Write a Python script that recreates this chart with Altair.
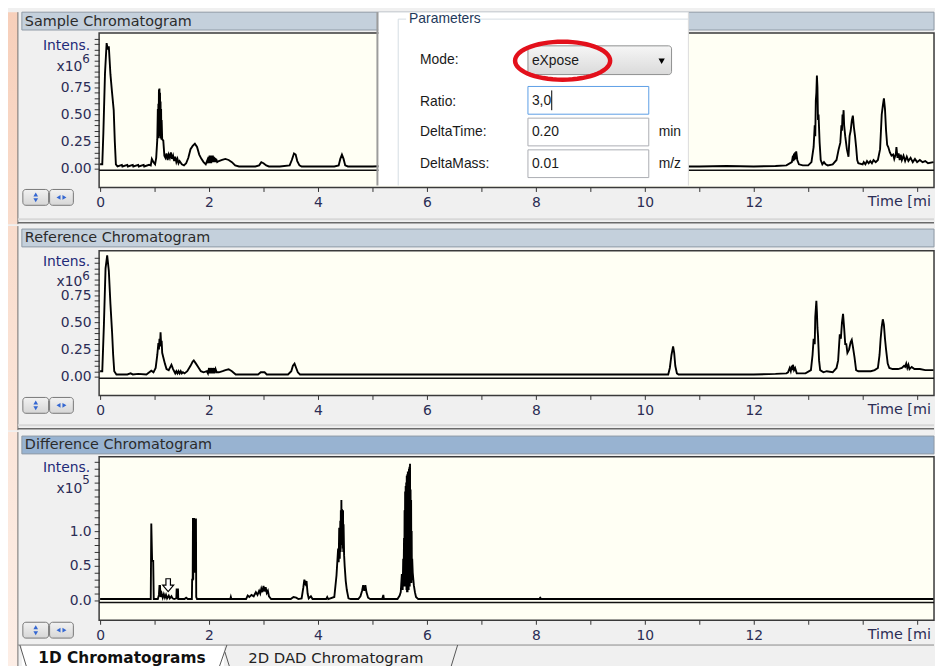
import math
import altair as alt
import pandas as pd

# ---------------- data ----------------
# Sample chromatogram, intensity x10^6
SAMPLE = [
    (0.00, 0.04), (0.04, 0.04), (0.06, 0.33), (0.09, 0.88), (0.12, 1.16), (0.14, 1.10), (0.16, 1.13),
    (0.19, 0.87), (0.22, 0.70), (0.25, 0.54), (0.27, 0.25), (0.29, 0.04),
    (0.32, 0.02), (0.40, 0.035), (0.41, 0.02), (0.50, 0.035), (0.51, 0.02), (0.60, 0.035), (0.61, 0.02),
    (0.70, 0.035), (0.71, 0.02), (0.80, 0.035), (0.81, 0.02), (0.90, 0.035), (0.93, 0.03),
    (0.95, 0.09), (0.98, 0.06), (1.01, 0.04), (1.03, 0.10), (1.05, 0.27), (1.06, 0.55), (1.065, 0.30),
    (1.07, 0.60), (1.075, 0.28), (1.08, 0.73), (1.085, 0.30), (1.09, 0.74), (1.095, 0.32), (1.10, 0.70),
    (1.105, 0.30), (1.11, 0.62), (1.115, 0.28), (1.12, 0.55), (1.125, 0.27), (1.13, 0.45), (1.14, 0.27),
    (1.16, 0.26), (1.18, 0.12),
    (1.20, 0.10), (1.22, 0.14), (1.24, 0.08), (1.26, 0.13), (1.28, 0.10), (1.30, 0.15), (1.32, 0.09),
    (1.34, 0.12), (1.36, 0.07), (1.38, 0.11), (1.40, 0.06), (1.42, 0.09), (1.44, 0.05), (1.46, 0.07),
    (1.50, 0.04), (1.54, 0.03),
    (1.58, 0.05), (1.62, 0.10), (1.66, 0.18), (1.70, 0.21), (1.74, 0.23), (1.78, 0.20), (1.82, 0.13),
    (1.86, 0.09), (1.90, 0.06), (1.94, 0.04),
    (1.97, 0.08), (1.98, 0.05), (1.99, 0.11), (2.00, 0.05), (2.01, 0.12), (2.02, 0.05), (2.03, 0.12),
    (2.04, 0.05), (2.05, 0.12), (2.06, 0.06), (2.07, 0.12), (2.08, 0.06), (2.09, 0.11), (2.10, 0.06),
    (2.11, 0.10), (2.12, 0.06), (2.13, 0.09), (2.15, 0.06),
    (2.18, 0.07), (2.24, 0.08), (2.30, 0.09), (2.36, 0.08), (2.42, 0.06), (2.48, 0.03), (2.55, 0.02),
    (2.70, 0.02), (2.85, 0.02), (2.92, 0.03), (2.96, 0.06), (3.00, 0.05), (3.05, 0.03), (3.10, 0.02),
    (3.30, 0.02), (3.48, 0.03), (3.52, 0.08), (3.56, 0.14), (3.59, 0.13), (3.62, 0.07), (3.66, 0.03),
    (3.70, 0.02), (4.00, 0.02), (4.30, 0.02), (4.38, 0.03), (4.41, 0.09), (4.44, 0.13), (4.47, 0.09),
    (4.50, 0.03), (4.55, 0.02),
    (5.00, 0.02), (5.60, 0.03), (5.70, 0.20), (5.80, 0.03), (6.50, 0.02), (8.00, 0.02), (10.40, 0.02),
    (10.50, 0.29), (10.60, 0.02), (11.00, 0.02), (11.50, 0.025), (12.00, 0.02), (12.40, 0.025), (12.60, 0.03),
    (12.70, 0.06), (12.72, 0.12), (12.73, 0.07), (12.74, 0.14), (12.75, 0.08), (12.76, 0.15), (12.77, 0.09),
    (12.78, 0.16), (12.80, 0.08), (12.83, 0.04), (12.90, 0.03), (13.00, 0.03),
    (13.06, 0.06), (13.10, 0.20), (13.12, 0.40), (13.13, 0.30), (13.14, 0.63), (13.15, 0.70), (13.16, 0.86),
    (13.17, 0.75), (13.18, 0.45), (13.19, 0.50), (13.21, 0.24), (13.23, 0.08), (13.26, 0.04), (13.29, 0.06),
    (13.32, 0.04), (13.36, 0.03),
    (13.45, 0.04), (13.52, 0.08), (13.56, 0.18), (13.59, 0.24), (13.61, 0.40), (13.62, 0.35), (13.63, 0.50),
    (13.64, 0.45), (13.65, 0.54), (13.66, 0.40), (13.68, 0.30), (13.71, 0.18), (13.74, 0.11), (13.76, 0.30),
    (13.78, 0.35), (13.80, 0.44), (13.82, 0.49), (13.84, 0.38), (13.86, 0.30), (13.88, 0.20), (13.90, 0.08),
    (13.92, 0.05),
    (14.00, 0.04), (14.02, 0.06), (14.05, 0.04), (14.08, 0.07), (14.11, 0.05), (14.14, 0.07), (14.17, 0.05),
    (14.20, 0.08), (14.24, 0.06), (14.28, 0.08), (14.32, 0.18), (14.35, 0.50), (14.37, 0.58), (14.39, 0.65),
    (14.41, 0.55), (14.43, 0.35), (14.45, 0.22), (14.47, 0.20), (14.50, 0.15), (14.53, 0.12),
    (14.56, 0.13), (14.58, 0.09), (14.61, 0.14), (14.62, 0.20), (14.64, 0.10), (14.66, 0.14), (14.68, 0.08),
    (14.70, 0.13), (14.72, 0.08), (14.75, 0.12), (14.78, 0.07), (14.81, 0.11), (14.84, 0.07), (14.88, 0.10),
    (14.92, 0.06), (14.96, 0.09), (15.00, 0.06), (15.05, 0.08), (15.10, 0.06), (15.15, 0.07), (15.20, 0.05),
    (15.30, 0.06),
]

# Reference chromatogram, intensity x10^6
REFERENCE = [
    (0.00, 0.05), (0.04, 0.05), (0.07, 0.48), (0.10, 1.00), (0.13, 1.12), (0.16, 0.98), (0.19, 0.67),
    (0.22, 0.41), (0.24, 0.20), (0.26, 0.05), (0.30, 0.02),
    (0.50, 0.02), (0.56, 0.03), (0.60, 0.02), (0.70, 0.025), (0.85, 0.02), (0.94, 0.055), (0.98, 0.04),
    (1.02, 0.08), (1.05, 0.20), (1.07, 0.31), (1.08, 0.25), (1.09, 0.35), (1.10, 0.28), (1.11, 0.41),
    (1.12, 0.30), (1.13, 0.33), (1.14, 0.22), (1.16, 0.18), (1.19, 0.12), (1.22, 0.07), (1.26, 0.06),
    (1.29, 0.09), (1.31, 0.11), (1.34, 0.07), (1.36, 0.05), (1.38, 0.03), (1.40, 0.05), (1.42, 0.03),
    (1.44, 0.05), (1.46, 0.03), (1.48, 0.05), (1.50, 0.03), (1.52, 0.04), (1.55, 0.03),
    (1.60, 0.05), (1.66, 0.10), (1.70, 0.14), (1.72, 0.15), (1.76, 0.12), (1.80, 0.09), (1.85, 0.05),
    (1.90, 0.04), (1.96, 0.05), (1.98, 0.03), (2.00, 0.08), (2.01, 0.03), (2.03, 0.08), (2.04, 0.03),
    (2.06, 0.08), (2.07, 0.03), (2.09, 0.08), (2.10, 0.03), (2.12, 0.07), (2.14, 0.04), (2.18, 0.04),
    (2.25, 0.05), (2.30, 0.06), (2.36, 0.068), (2.42, 0.05), (2.49, 0.02),
    (2.90, 0.02), (2.95, 0.04), (3.02, 0.04), (3.06, 0.02), (3.45, 0.02), (3.51, 0.05), (3.54, 0.10),
    (3.57, 0.12), (3.60, 0.08), (3.63, 0.04), (3.67, 0.02),
    (5.00, 0.02), (7.00, 0.02), (9.00, 0.02), (10.43, 0.02), (10.46, 0.08), (10.49, 0.20), (10.52, 0.28),
    (10.54, 0.22), (10.56, 0.10), (10.59, 0.03), (10.62, 0.02),
    (12.00, 0.02), (12.40, 0.025), (12.60, 0.03), (12.63, 0.04), (12.66, 0.08), (12.68, 0.05), (12.70, 0.10),
    (12.71, 0.06), (12.72, 0.11), (12.74, 0.06), (12.76, 0.08), (12.79, 0.03), (12.95, 0.03),
    (13.05, 0.06), (13.08, 0.20), (13.10, 0.35), (13.12, 0.30), (13.13, 0.55), (13.15, 0.70), (13.16, 0.60),
    (13.17, 0.45), (13.18, 0.38), (13.20, 0.15), (13.22, 0.06), (13.28, 0.04), (13.34, 0.05), (13.45, 0.04),
    (13.52, 0.08), (13.55, 0.15), (13.58, 0.39), (13.60, 0.35), (13.62, 0.50), (13.64, 0.58), (13.66, 0.45),
    (13.68, 0.30), (13.70, 0.30), (13.72, 0.22), (13.75, 0.25), (13.78, 0.32), (13.80, 0.34), (13.82, 0.28),
    (13.85, 0.18), (13.88, 0.06), (13.92, 0.05),
    (14.05, 0.05), (14.15, 0.05), (14.22, 0.06), (14.28, 0.08), (14.31, 0.20), (14.33, 0.35), (14.35, 0.46),
    (14.37, 0.53), (14.39, 0.48), (14.41, 0.35), (14.43, 0.25), (14.46, 0.12), (14.49, 0.08), (14.55, 0.07),
    (14.65, 0.07), (14.72, 0.08), (14.76, 0.10), (14.78, 0.09), (14.80, 0.12), (14.82, 0.08), (14.84, 0.11),
    (14.86, 0.07), (14.90, 0.09), (14.95, 0.07), (15.05, 0.07), (15.15, 0.06), (15.30, 0.06),
]

# Difference chromatogram, intensity x10^5
DIFFERENCE = [
    (0.00, 0.02), (0.93, 0.02), (0.94, 1.11), (0.955, 0.57), (0.975, 0.57), (0.985, 0.02), (1.06, 0.02),
    (1.08, 0.08), (1.09, 0.21), (1.10, 0.21), (1.11, 0.05), (1.13, 0.10), (1.15, 0.04), (1.17, 0.09),
    (1.19, 0.04), (1.21, 0.08), (1.23, 0.03), (1.26, 0.07), (1.28, 0.03), (1.31, 0.06), (1.33, 0.03),
    (1.36, 0.02), (1.40, 0.03), (1.405, 0.16), (1.43, 0.16), (1.435, 0.02), (1.55, 0.02), (1.58, 0.04),
    (1.61, 0.02), (1.685, 0.02), (1.69, 0.30), (1.70, 0.30), (1.705, 1.19), (1.71, 0.30), (1.715, 1.19),
    (1.72, 0.40), (1.725, 1.19), (1.73, 0.40), (1.735, 1.18), (1.74, 0.40), (1.745, 1.18), (1.75, 0.40),
    (1.755, 1.17), (1.76, 1.17), (1.765, 0.05), (1.78, 0.02),
    (2.39, 0.02), (2.40, 0.05), (2.41, 0.02), (2.68, 0.02), (2.71, 0.07), (2.74, 0.05), (2.78, 0.08),
    (2.82, 0.06), (2.86, 0.12), (2.89, 0.08), (2.92, 0.14), (2.94, 0.10), (2.96, 0.17), (2.98, 0.12),
    (3.00, 0.21), (3.02, 0.13), (3.04, 0.19), (3.06, 0.11), (3.08, 0.14), (3.10, 0.06), (3.14, 0.02),
    (3.50, 0.02), (3.55, 0.05), (3.60, 0.04), (3.64, 0.02), (3.70, 0.03), (3.73, 0.18), (3.75, 0.30),
    (3.77, 0.24), (3.79, 0.28), (3.81, 0.10), (3.83, 0.03), (3.87, 0.06), (3.90, 0.02), (4.15, 0.02),
    (4.17, 0.05), (4.19, 0.02),
    (4.30, 0.05), (4.34, 0.36), (4.37, 0.75), (4.38, 0.55), (4.39, 1.05), (4.40, 0.60), (4.41, 1.15),
    (4.415, 0.70), (4.42, 1.30), (4.425, 0.80), (4.43, 1.45), (4.435, 0.85), (4.44, 1.32), (4.445, 0.80),
    (4.45, 1.30), (4.455, 0.75), (4.46, 1.30), (4.465, 0.70), (4.47, 1.10), (4.48, 0.65), (4.49, 0.50),
    (4.51, 0.28), (4.53, 0.15), (4.56, 0.03), (4.60, 0.02),
    (4.74, 0.02), (4.78, 0.06), (4.81, 0.14), (4.83, 0.22), (4.85, 0.14), (4.87, 0.22), (4.89, 0.12),
    (4.92, 0.04), (4.96, 0.02), (5.18, 0.02), (5.20, 0.08), (5.21, 0.02),
    (5.46, 0.02), (5.50, 0.07), (5.52, 0.12), (5.54, 0.38), (5.555, 0.15), (5.565, 0.60), (5.57, 0.20),
    (5.58, 0.90), (5.585, 0.20), (5.59, 1.30), (5.595, 0.20), (5.60, 1.57), (5.605, 0.20), (5.61, 1.65),
    (5.615, 0.20), (5.62, 1.70), (5.625, 0.15), (5.63, 1.80), (5.635, 0.12), (5.64, 1.82), (5.645, 0.12),
    (5.65, 1.86), (5.655, 0.15), (5.66, 1.86), (5.665, 0.15), (5.67, 1.90), (5.675, 0.20), (5.68, 1.93),
    (5.685, 0.20), (5.69, 1.97), (5.695, 0.25), (5.70, 1.60), (5.705, 0.25), (5.71, 1.45), (5.715, 0.25),
    (5.72, 1.00), (5.725, 0.30), (5.73, 0.60), (5.74, 0.40), (5.76, 0.22), (5.78, 0.12), (5.80, 0.05),
    (5.84, 0.02),
    (8.06, 0.02), (8.08, 0.04), (8.10, 0.02), (15.30, 0.02),
]

X_TICKS = list(range(0, 16))
X_LABEL_MAX = 12
P1_Y_TICKS = [round(0.05 * i, 2) for i in range(25)]
P2_Y_TICKS = [round(0.05 * i, 2) for i in range(23)]
P3_Y_TICKS = [round(0.1 * i, 1) for i in range(21)]
P12_LABELS = ["0.00", "0.25", "0.50", "0.75"]
P3_LABELS = ["0.0", "0.5", "1.0"]
ARROW_MARK = [(1.25, 0.22)]

# ---------------- layout / style ----------------
PW = 843
XDOM = [-0.018, 15.31]
UI = "DejaVu Sans"
DLG = "Liberation Sans"
LABEL_COLOR = "#2b2d55"
ARROW_SHAPE = "M -0.35 -1 L 0.35 -1 L 0.35 0 L 0.85 0 L 0 1 L -0.85 0 L -0.35 0 Z"

one = pd.DataFrame({"k": [0]})


def rect(x, x2, y, y2, **kw):
    return alt.Chart(one).mark_rect(**kw).encode(
        x=alt.value(x), x2=alt.value(x2), y=alt.value(y), y2=alt.value(y2))


def seg(x, x2, y, y2, color, width=1.0):
    return alt.Chart(one).mark_rule(color=color, strokeWidth=width).encode(
        x=alt.value(x), x2=alt.value(x2), y=alt.value(y), y2=alt.value(y2))


def txt(s, x, y, size=14, font=UI, color="#222222", align="left", weight="normal", **kw):
    return alt.Chart(one).mark_text(
        text=s, font=font, fontSize=size, color=color, align=align,
        baseline="middle", fontWeight=weight, **kw
    ).encode(x=alt.value(x), y=alt.value(y))


def tri(shape, x, y, size=18, color="#3467d2"):
    return alt.Chart(one).mark_point(
        shape=shape, filled=True, size=size, fill=color, strokeWidth=0, opacity=1
    ).encode(x=alt.value(x), y=alt.value(y))


def vgrad(c1, c2):
    return alt.Gradient(gradient="linear",
                        stops=[alt.GradientStop(offset=0, color=c1), alt.GradientStop(offset=1, color=c2)],
                        x1=0, x2=0, y1=0, y2=1)


def make_axes(yticks, ylabels, yfmt):
    xaxis = alt.Axis(values=X_TICKS, format="d",
                     labelExpr=f"datum.value % 2 == 0 && datum.value <= {X_LABEL_MAX} ? datum.label : ''",
                     tickSize=4, tickColor="#333333", tickWidth=1, labelFont=UI, labelFontSize=14,
                     labelColor=LABEL_COLOR, labelPadding=4, domain=False, grid=False, title=None,
                     labelFlush=False, labelOverlap=False, zindex=1)
    yaxis = alt.Axis(values=yticks, format=yfmt,
                     labelExpr=f"indexof({ylabels}, datum.label) >= 0 ? datum.label : ''",
                     tickSize=5, tickColor="#333333", tickWidth=1, labelFont=UI, labelFontSize=14,
                     labelColor=LABEL_COLOR, labelPadding=3, domain=False, grid=False, title=None,
                     labelFlush=False, labelOverlap=False, zindex=1)
    return xaxis, yaxis


def panel(points, H, top, bottom, ydom, yticks, ylabels, yfmt, zero, title, barfill, bar_top,
          exp_text, y_int, y_x10, y_exp, peach, extras=(), separator=True, arrow=None):
    df = pd.DataFrame(points, columns=["t", "v"])
    xaxis, yaxis = make_axes(yticks, ylabels, yfmt)
    xs = alt.Scale(domain=XDOM, nice=False, zero=False)
    ys = alt.Scale(domain=ydom, nice=False, zero=False)
    layers = [
        rect(-92, PW, -top, H + bottom, fill="#f0f0f0"),
        rect(-92, -82, -top, H + bottom, fill=vgrad(*peach)),
        seg(-82, -82, -top, H + bottom, "#707070", 1),
        rect(-78, PW, bar_top, bar_top + 18, fill=barfill, stroke="#8f9aa6", strokeWidth=1),
        txt(title, -75, bar_top + 9.5, size=14.5, color="#2b2b2b"),
        rect(0, PW, 0, H, fill="#fffff4", stroke="#3a3a3a", strokeWidth=1.5),
        alt.Chart(df).mark_line(color="black", strokeWidth=1.9, clip=True).encode(
            x=alt.X("t:Q", scale=xs, axis=xaxis),
            y=alt.Y("v:Q", scale=ys, axis=yaxis)),
        alt.Chart(pd.DataFrame({"z": [zero]})).mark_rule(color="#111111", strokeWidth=1.5).encode(
            y=alt.Y("z:Q", scale=ys, axis=yaxis)),
        txt("Intens.", -9, y_int, size=14, color="#1e2a78", align="right"),
        txt("x10", -17, y_x10, size=14, color="#2a2a55", align="right"),
        txt(exp_text, -17, y_exp, size=12, color="#2a2a55", align="left"),
        txt("Time [min]", 776, H + 15, size=14.5, color=LABEL_COLOR, limit=67, ellipsis="\u200b"),
        rect(-77, -51, H + 2, H + 18, fill=vgrad("#f2f2f2", "#d6d6d6"), stroke="#777777",
             strokeWidth=1, cornerRadius=3),
        rect(-50, -26, H + 2, H + 18, fill=vgrad("#f2f2f2", "#d6d6d6"), stroke="#777777",
             strokeWidth=1, cornerRadius=3),
        tri("triangle-up", -64, H + 7, 22),
        tri("triangle-down", -64, H + 13, 22),
        tri("triangle-left", -41, H + 10, 22),
        tri("triangle-right", -35, H + 10, 22),
    ]
    if arrow is not None:
        layers.append(
            alt.Chart(pd.DataFrame(arrow, columns=["t", "v"])).mark_point(
                shape=ARROW_SHAPE, size=13 * 13, filled=True, fill="#ffffff", stroke="#000000",
                strokeWidth=1.2, opacity=1).encode(
                x=alt.X("t:Q", scale=xs, axis=xaxis), y=alt.Y("v:Q", scale=ys, axis=yaxis)))
    if separator:
        layers.append(seg(-82, PW, H + bottom - 5, H + bottom - 5, "#d8d8d8", 2))
        layers.append(seg(-82, PW, H + bottom - 1.5, H + bottom - 1.5, "#6a6a6a", 1.5))
    layers.extend(extras)
    return alt.layer(*layers).properties(width=PW, height=H)


# ---- Parameters dialog (over the sample panel) ----
ell = [(math.cos(2 * math.pi * i / 60), 0.40 * math.sin(2 * math.pi * i / 60)) for i in range(60)]
ELLIPSE = "M " + " L ".join(f"{a:.3f} {b:.3f}" for a, b in ell) + " Z"

dialog = [
    rect(282, 595, -21, 154, fill="#ffffff"),
    seg(281, 281, -21, 154, "#9c9c9c", 2),
    seg(595, 595, -21, 154, "#dcdcdc", 1),
    seg(302, 302, -14, 154, "#d5dde3", 1),
    seg(302, 310, -14, -14, "#d5dde3", 1),
    seg(384, 595, -14, -14, "#d5dde3", 1),
    txt("Parameters", 313, -14, size=14, font=DLG, color="#1e395b"),
    txt("Mode:", 324, 27.5, size=14, font=DLG, color="#1a1a1a"),
    rect(433, 578, 13, 42, fill=vgrad("#f6f6f6", "#dadada"), stroke="#8e8f8f", strokeWidth=1, cornerRadius=3),
    txt("eXpose", 437, 28, size=14, font=DLG, color="#1a1a1a"),
    tri("triangle-down", 568, 28.5, 40, "#000000"),
    alt.Chart(one).mark_point(shape=ELLIPSE, size=96 * 96, filled=False, stroke="#e3101b",
                              strokeWidth=4.5, opacity=1).encode(x=alt.value(468), y=alt.value(28)),
    txt("Ratio:", 324, 69.5, size=14, font=DLG, color="#1a1a1a"),
    rect(433, 555, 54, 82, fill="#ffffff", stroke="#5b9ee6", strokeWidth=1),
    txt("3,0", 437, 68.5, size=14, font=DLG, color="#1a1a1a"),
    seg(457, 457, 58, 78, "#000000", 1),
    txt("DeltaTime:", 324, 100.5, size=14, font=DLG, color="#1a1a1a"),
    txt("±", 522, 100.5, size=14, font=DLG, color="#1a1a1a", align="center"),
    rect(433, 555, 86, 114, fill="#ffffff", stroke="#abadb3", strokeWidth=1),
    txt("0.20", 437, 100, size=14, font=DLG, color="#1a1a1a"),
    txt("min", 565, 100.5, size=14, font=DLG, color="#1a1a1a"),
    txt("DeltaMass:", 324, 132, size=14, font=DLG, color="#1a1a1a"),
    txt("±", 522, 132, size=14, font=DLG, color="#1a1a1a", align="center"),
    rect(433, 555, 118, 146, fill="#ffffff", stroke="#abadb3", strokeWidth=1),
    txt("0.01", 437, 132, size=14, font=DLG, color="#1a1a1a"),
    txt("m/z", 565, 132, size=14, font=DLG, color="#1a1a1a"),
]

# ---- tabs (under the difference panel) ----
H3 = 165
tabs = [
    rect(-78, 126, 191, 213, fill="#ffffff"),
    seg(-82, PW, 190, 190, "#8a8a8a", 1),
    seg(-80, -73, 190, 213, "#555555", 1),
    seg(121, 129, 213, 190, "#555555", 1),
    seg(127, 132, 197, 213, "#555555", 1),
    seg(355, 362, 213, 190, "#555555", 1),
    txt("1D Chromatograms", 23, 203, size=15.5, color="#111111", align="center", weight="bold"),
    txt("2D DAD Chromatogram", 239, 203, size=15, color="#222222", align="center"),
]

p1 = panel(SAMPLE, 156, 21, 37, [-0.174, 1.253], P1_Y_TICKS, P12_LABELS, ".2f", -0.015,
           "Sample Chromatogram", "#c4d0dc", -21, "6", 13, 34, 26, ("#f7cfba", "#f9dccc"),
           extras=dialog)
p2 = panel(REFERENCE, 146, 25, 35, [-0.174, 1.162], P2_Y_TICKS, P12_LABELS, ".2f", -0.015,
           "Reference Chromatogram", "#c4d0dc", -22, "6", 11, 31, 25, ("#f9dccc", "#fbe5d9"))
p3 = panel(DIFFERENCE, H3, 25, 48, [-0.286, 2.071], P3_Y_TICKS, P3_LABELS, ".1f", -0.03,
           "Difference Chromatogram", "#98b3d1", -21, "5", 11, 32, 23.5, ("#fbe5d9", "#fdeee6"),
           extras=tabs, separator=False, arrow=ARROW_MARK)

chart = alt.vconcat(p1, p2, p3, spacing=0).properties(
    padding=0, background="#f0f0f0"
).configure_view(stroke=None)

chart.save("out.html", embed_options={"renderer": "svg", "actions": False})
